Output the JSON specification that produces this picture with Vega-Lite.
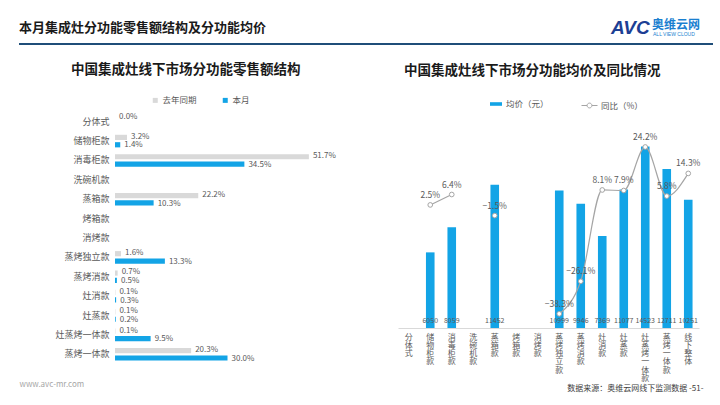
{
  "$schema": "https://vega.github.io/schema/vega-lite/v6.json",
  "background": "white",
  "padding": {"left": 18, "top": 19, "right": 2, "bottom": 2},
  "config": {
    "font": "Noto Sans CJK SC",
    "view": {"stroke": null},
    "axis": {"grid": false}
  },
  "spacing": 17,
  "align": "none",
  "resolve": {"legend": {"color": "independent", "fill": "independent", "stroke": "independent"}},
  "vconcat": [
    {
      "width": 598,
      "height": 25,
      "data": {"values": [{"v": 0}]},
      "encoding": {
        "y": {"datum": 0, "type": "quantitative", "scale": {"domain": [0, 1]}, "axis": null}
      },
      "layer": [
        {
          "mark": {"type": "rule", "color": "#1f4e79", "strokeWidth": 2},
          "encoding": {
            "x": {"datum": -0.1605, "type": "quantitative", "scale": {"domain": [0, 1]}, "axis": null},
            "x2": {"datum": 1}
          }
        },
        {
          "mark": {"type": "text", "align": "left", "baseline": "middle", "fontSize": 13, "fontWeight": "bold", "color": "#1a1a1a"},
          "encoding": {
            "x": {"datum": -0.1605},
            "y": {"datum": 0.64},
            "text": {"value": "本月集成灶分功能零售额结构及分功能均价"}
          }
        },
        {
          "mark": {"type": "text", "align": "left", "baseline": "middle", "fontSize": 19, "fontWeight": "bold", "fontStyle": "italic", "font": "Liberation Sans", "color": "#1d3f94"},
          "encoding": {
            "x": {"datum": 0.8294},
            "y": {"datum": 0.64},
            "text": {"value": "AVC"}
          }
        },
        {
          "mark": {"type": "text", "align": "left", "baseline": "middle", "fontSize": 12, "fontWeight": "bold", "color": "#1a7fd0"},
          "encoding": {
            "x": {"datum": 0.898},
            "y": {"datum": 0.76},
            "text": {"value": "奥维云网"}
          }
        },
        {
          "mark": {"type": "text", "align": "left", "baseline": "middle", "fontSize": 5, "font": "Liberation Sans", "color": "#1a7fd0"},
          "encoding": {
            "x": {"datum": 0.8997},
            "y": {"datum": 0.4},
            "text": {"value": "ALL VIEW CLOUD"}
          }
        }
      ]
    },
    {
      "spacing": 58,
      "resolve": {"legend": {"color": "independent", "fill": "independent", "stroke": "independent"}},
      "hconcat": [
        {
          "width": 225,
          "height": 252,
          "title": {"text": "中国集成灶线下市场分功能零售额结构", "anchor": "start", "frame": "group", "dx": -44, "fontSize": 13.5, "fontWeight": "bold", "color": "#1a1a1a", "offset": 20},
          "data": {"values": [
            {"cat": "分体式", "series": "去年同期", "v": 0.0},
            {"cat": "储物柜款", "series": "去年同期", "v": 0.032},
            {"cat": "储物柜款", "series": "本月", "v": 0.014},
            {"cat": "消毒柜款", "series": "去年同期", "v": 0.517},
            {"cat": "消毒柜款", "series": "本月", "v": 0.345},
            {"cat": "蒸箱款", "series": "去年同期", "v": 0.222},
            {"cat": "蒸箱款", "series": "本月", "v": 0.103},
            {"cat": "蒸烤独立款", "series": "去年同期", "v": 0.016},
            {"cat": "蒸烤独立款", "series": "本月", "v": 0.133},
            {"cat": "蒸烤消款", "series": "去年同期", "v": 0.007},
            {"cat": "蒸烤消款", "series": "本月", "v": 0.005},
            {"cat": "灶消款", "series": "去年同期", "v": 0.001},
            {"cat": "灶消款", "series": "本月", "v": 0.003},
            {"cat": "灶蒸款", "series": "去年同期", "v": 0.001},
            {"cat": "灶蒸款", "series": "本月", "v": 0.002},
            {"cat": "灶蒸烤一体款", "series": "去年同期", "v": 0.001},
            {"cat": "灶蒸烤一体款", "series": "本月", "v": 0.095},
            {"cat": "蒸烤一体款", "series": "去年同期", "v": 0.203},
            {"cat": "蒸烤一体款", "series": "本月", "v": 0.300}
          ]},
          "encoding": {
            "y": {"field": "cat", "type": "nominal",
              "scale": {"domain": ["分体式", "储物柜款", "消毒柜款", "洗碗机款", "蒸箱款", "烤箱款", "消烤款", "蒸烤独立款", "蒸烤消款", "灶消款", "灶蒸款", "灶蒸烤一体款", "蒸烤一体款"], "paddingInner": 0.35, "paddingOuter": 0.175},
              "axis": {"title": null, "ticks": false, "domain": false, "labelFontSize": 9, "labelColor": "#595959", "labelPadding": 6}},
            "x": {"field": "v", "type": "quantitative", "scale": {"domain": [0, 0.6]},
              "axis": {"title": "www.avc-mr.com", "labels": false, "ticks": false, "domain": false, "titleX": -96, "titleY": 20, "titleAlign": "left", "titleBaseline": "middle", "titleFontSize": 8, "titleFontWeight": "normal", "titleColor": "#a6a6a6"}},
            "color": {"field": "series", "type": "nominal",
              "scale": {"domain": ["去年同期", "本月"], "range": ["#d9d9d9", "#13a4e6"]},
              "legend": {"orient": "none", "legendX": 36, "legendY": -16, "direction": "horizontal", "title": null, "symbolType": "square", "symbolSize": 25, "labelFontSize": 8.5, "labelColor": "#595959", "labelOffset": 3, "columnPadding": 24}}
          },
          "layer": [
            {
              "transform": [{"filter": "datum.series == '去年同期'"}],
              "mark": {"type": "bar", "height": 5.2, "yOffset": -3.7}
            },
            {
              "transform": [{"filter": "datum.series == '本月'"}],
              "mark": {"type": "bar", "height": 5.2, "yOffset": 3.7}
            },
            {
              "transform": [{"filter": "datum.series == '去年同期'"}],
              "mark": {"type": "text", "align": "left", "baseline": "middle", "dx": 4, "dy": -4.4, "fontSize": 8, "color": "#595959"},
              "encoding": {"text": {"field": "v", "type": "quantitative", "format": ".1%"}, "color": {"value": "#595959"}}
            },
            {
              "transform": [{"filter": "datum.series == '本月'"}],
              "mark": {"type": "text", "align": "left", "baseline": "middle", "dx": 4, "dy": 4.4, "fontSize": 8, "color": "#595959"},
              "encoding": {"text": {"field": "v", "type": "quantitative", "format": ".1%"}, "color": {"value": "#595959"}}
            }
          ]
        },
        {
          "width": 301,
          "height": 216,
          "title": {"text": "中国集成灶线下市场分功能均价及同比情况", "anchor": "start", "frame": "group", "dx": 6, "fontSize": 13.5, "fontWeight": "bold", "color": "#1a1a1a", "offset": 20},
          "data": {"values": [
            {"cat": "分体式", "price": null, "yoy": null},
            {"cat": "储物柜款", "price": 6050, "yoy": 0.025},
            {"cat": "消毒柜款", "price": 8059, "yoy": 0.064},
            {"cat": "洗碗机款", "price": null, "yoy": null},
            {"cat": "蒸箱款", "price": 11452, "yoy": -0.015},
            {"cat": "烤箱款", "price": null, "yoy": null},
            {"cat": "消烤款", "price": null, "yoy": null},
            {"cat": "蒸烤独立款", "price": 10999, "yoy": -0.383},
            {"cat": "蒸烤消款", "price": 9946, "yoy": -0.261},
            {"cat": "灶消款", "price": 7369, "yoy": 0.081},
            {"cat": "灶蒸款", "price": 11077, "yoy": 0.079},
            {"cat": "灶蒸烤一体款", "price": 14523, "yoy": 0.242},
            {"cat": "蒸烤一体款", "price": 12711, "yoy": 0.058},
            {"cat": "线下整体", "price": 10251, "yoy": 0.143}
          ]},
          "encoding": {
            "x": {"field": "cat", "type": "nominal",
              "scale": {"domain": ["分体式", "储物柜款", "消毒柜款", "洗碗机款", "蒸箱款", "烤箱款", "消烤款", "蒸烤独立款", "蒸烤消款", "灶消款", "灶蒸款", "灶蒸烤一体款", "蒸烤一体款", "线下整体"], "paddingInner": 0.6, "paddingOuter": 0.3},
              "axis": {"title": "数据来源：奥维云网线下监测数据    -51-", "labelAngle": 0, "labelExpr": "split(datum.label, '')", "labelFontSize": 8, "labelColor": "#595959", "labelLineHeight": 8.3, "labelPadding": 5, "labelBaseline": "top", "ticks": false, "domainColor": "#d9d9d9", "titleX": 305, "titleY": 60, "titleAlign": "right", "titleBaseline": "middle", "titleFontSize": 8, "titleFontWeight": "normal", "titleColor": "#404040"}}
          },
          "layer": [
            {
              "mark": {"type": "bar"},
              "encoding": {
                "y": {"field": "price", "type": "quantitative", "scale": {"domain": [0, 17280]}, "axis": null},
                "fill": {"datum": "均价（元）", "type": "nominal",
                  "scale": {"domain": ["均价（元）"], "range": ["#13a4e6"]},
                  "legend": {"orient": "none", "legendX": 91, "legendY": -15, "title": null, "symbolType": "M-1,-0.3H1V0.3H-1Z", "symbolSize": 144, "labelFontSize": 8.5, "labelColor": "#595959", "labelOffset": 3}}
              }
            },
            {
              "transform": [{"filter": "datum.price != null"}],
              "mark": {"type": "text", "baseline": "middle", "dy": -7, "fontSize": 7, "color": "#595959"},
              "encoding": {
                "y": {"datum": 0, "type": "quantitative", "scale": {"domain": [0, 17280]}, "axis": null},
                "text": {"field": "price", "type": "quantitative", "format": "d"}
              }
            },
            {
              "mark": {"type": "line", "interpolate": "monotone", "strokeWidth": 1.2,
                "point": {"filled": true, "fill": "white", "stroke": "#a5a5a5", "size": 22, "strokeWidth": 1}},
              "encoding": {
                "y": {"field": "yoy", "type": "quantitative", "scale": {"domain": [-0.436, 0.373]}, "axis": null},
                "stroke": {"datum": "同比（%）", "type": "nominal",
                  "scale": {"domain": ["同比（%）"], "range": ["#a5a5a5"]},
                  "legend": {"orient": "none", "legendX": 183, "legendY": -15, "title": null, "symbolType": "M-1,0H-0.3M0.3,0A0.3,0.3 0 1 1 -0.3,0A0.3,0.3 0 1 1 0.3,0M0.3,0H1", "symbolSize": 256, "symbolFillColor": "white", "symbolStrokeWidth": 1, "labelFontSize": 8.5, "labelColor": "#595959", "labelOffset": 3}}
              }
            },
            {
              "transform": [{"filter": "datum.yoy != null"}],
              "mark": {"type": "text", "baseline": "middle", "dy": -10, "fontSize": 8.5, "color": "#595959"},
              "encoding": {
                "y": {"field": "yoy", "type": "quantitative", "scale": {"domain": [-0.436, 0.373]}, "axis": null},
                "text": {"field": "yoy", "type": "quantitative", "format": ".1%"}
              }
            }
          ],
          "resolve": {"scale": {"y": "independent"}}
        }
      ]
    }
  ]
}
